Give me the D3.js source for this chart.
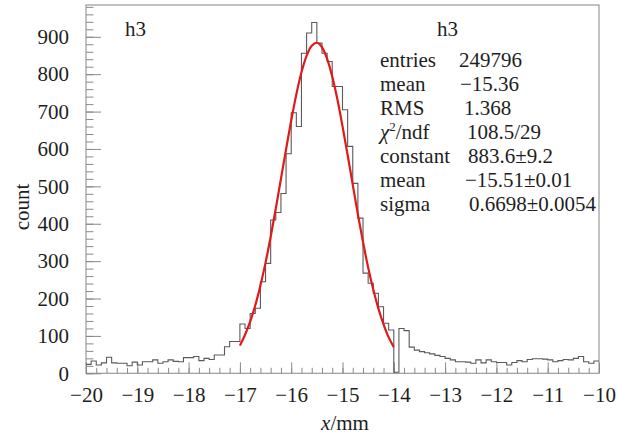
<!DOCTYPE html>
<html><head><meta charset="utf-8">
<script src="https://cdn.jsdelivr.net/npm/d3@7/dist/d3.min.js"></script>
<style>html,body{margin:0;padding:0;background:#fff;}svg{display:block;}</style>
</head><body>
<svg id="c" width="617" height="435"></svg>
<script>
// ---------- data ----------
const xDomain = [-20, -10];
const yDomain = [0, 985];
const binWidth = 0.1;
const counts = [
  24,33,22,28,43,28,27,27,20,30, 22,31,31,36,27,31,36,32,31,42,
  42,45,34,40,37,49,49,71,85,85, 132,120,160,174,245,294,410,430,481,587,
  697,660,856,910,938,883,856,834,767,767, 705,607,508,415,268,241,214,178,134,116,
  3,120,114,70,62,58,55,52,48,45, 40,36,31,31,30,27,36,28,36,31,
  29,29,22,29,34,31,37,39,39,38, 36,31,34,37,36,40,45,31,27,33
];
const fitX = [-17.0,-16.9,-16.8,-16.7,-16.6,-16.5,-16.4,-16.3,-16.2,-16.1,-16.0,-15.9,-15.8,-15.7,-15.6,-15.5,
              -15.4,-15.3,-15.2,-15.1,-15.0,-14.9,-14.8,-14.7,-14.6,-14.5,-14.4,-14.3,-14.2,-14.1,-14.0];
const fitY = [74,103,138,182,235,296,365,441,520,599,676,746,805,849,876,884,
              872,841,794,733,661,584,504,425,351,283,224,173,131,96,70];
const xTicks = [-20,-19,-18,-17,-16,-15,-14,-13,-12,-11,-10];
const yTicks = [0,100,200,300,400,500,600,700,800,900];
const histName = "h3";
const statLabels = ["entries","mean","RMS","χ2/ndf","constant","mean","sigma"];
const statValues = ["249796","\u221215.36","1.368","108.5/29","883.6\u00b19.2","\u221215.51\u00b10.01","0.6698\u00b10.0054"];
const yTitle = "count";

// ---------- layout ----------
const L = 86, R = 599, T = 5, B = 373.3;
const valueX = [459, 460, 464, 467, 468, 465, 469];
const font = "'Liberation Serif','Times New Roman',serif";
const txt = "#1e1e1e", axisCol = "#8a8a8a";

const svg = d3.select("#c");
const x = d3.scaleLinear().domain(xDomain).range([L, R]);
const y = d3.scaleLinear().domain(yDomain).range([B, T]);
const fmt = d => (d < 0 ? "\u2212" + Math.abs(d) : String(d));

// frame
svg.append("rect").attr("x", L).attr("y", T).attr("width", R - L).attr("height", B - T)
  .attr("fill", "none").attr("stroke", "#9a9a9a").attr("stroke-width", 1.2);

// minor ticks
const xMinor = d3.range(-20, -10.0001, 0.2).map(v => +v.toFixed(2));
const yMinor = d3.range(0, 981, 20);
svg.append("g").attr("transform", `translate(0,${B})`)
  .call(d3.axisBottom(x).tickValues(xMinor).tickSizeInner(-5.5).tickSizeOuter(0).tickFormat(""))
  .call(g => g.select(".domain").remove())
  .selectAll("line").attr("stroke", axisCol);
svg.append("g").attr("transform", `translate(${L},0)`)
  .call(d3.axisLeft(y).tickValues(yMinor).tickSizeInner(-7.5).tickSizeOuter(0).tickFormat(""))
  .call(g => g.select(".domain").remove())
  .selectAll("line").attr("stroke", axisCol);

// major axes
const gx = svg.append("g").attr("transform", `translate(0,${B})`)
  .call(d3.axisBottom(x).tickValues(xTicks).tickSizeInner(-11).tickSizeOuter(0).tickPadding(14).tickFormat(fmt));
gx.select(".domain").remove();
gx.selectAll("line").attr("stroke", axisCol);
gx.selectAll("text").attr("font-family", font).attr("font-size", 21).attr("fill", txt);

const gy = svg.append("g").attr("transform", `translate(${L},0)`)
  .call(d3.axisLeft(y).tickValues(yTicks).tickSizeInner(-15).tickSizeOuter(0).tickPadding(17).tickFormat(fmt));
gy.select(".domain").remove();
gy.selectAll("line").attr("stroke", axisCol);
gy.selectAll("text").attr("font-family", font).attr("font-size", 21).attr("fill", txt);

// histogram
const pts = counts.map((c, i) => [xDomain[0] + i * binWidth, c]);
pts.push([xDomain[1], counts[counts.length - 1]]);
svg.append("path")
  .attr("d", d3.line().x(d => x(d[0])).y(d => y(d[1])).curve(d3.curveStepAfter)(pts))
  .attr("fill", "none").attr("stroke", "#5a5a5a").attr("stroke-width", 1.1);

// fit curve
svg.append("path")
  .attr("d", d3.line().x((d, i) => x(fitX[i])).y(d => y(d)).curve(d3.curveCatmullRom)(fitY))
  .attr("fill", "none").attr("stroke", "#e0191b").attr("stroke-width", 2.2);

// titles
svg.append("text").attr("x", 125).attr("y", 36).attr("font-family", font).attr("font-size", 21)
  .attr("fill", txt).text(histName);
svg.append("text").attr("x", 437).attr("y", 36).attr("font-family", font).attr("font-size", 21)
  .attr("fill", txt).text(histName);

// stats box text
statLabels.forEach((lab, i) => {
  const yy = 67 + i * 24;
  const t = svg.append("text").attr("x", 380).attr("y", yy).attr("font-family", font)
    .attr("font-size", 21).attr("fill", txt);
  if (lab.startsWith("χ")) {
    t.append("tspan").attr("font-style", "italic").text("χ");
    t.append("tspan").attr("dy", -8).attr("font-size", 13).text("2");
    t.append("tspan").attr("dy", 8).text("/ndf");
  } else t.text(lab);
  svg.append("text").attr("x", valueX[i]).attr("y", yy).attr("font-family", font)
    .attr("font-size", 21).attr("fill", txt).text(statValues[i]);
});

// axis titles
svg.append("text").attr("transform", "translate(29,207) rotate(-90)").attr("text-anchor", "middle")
  .attr("font-family", font).attr("font-size", 21).attr("fill", txt).text(yTitle);
const xt = svg.append("text").attr("x", 345).attr("y", 430).attr("text-anchor", "middle")
  .attr("font-family", font).attr("font-size", 21).attr("fill", txt);
xt.append("tspan").attr("font-style", "italic").text("x");
xt.append("tspan").text("/mm");
</script>
</body></html>
